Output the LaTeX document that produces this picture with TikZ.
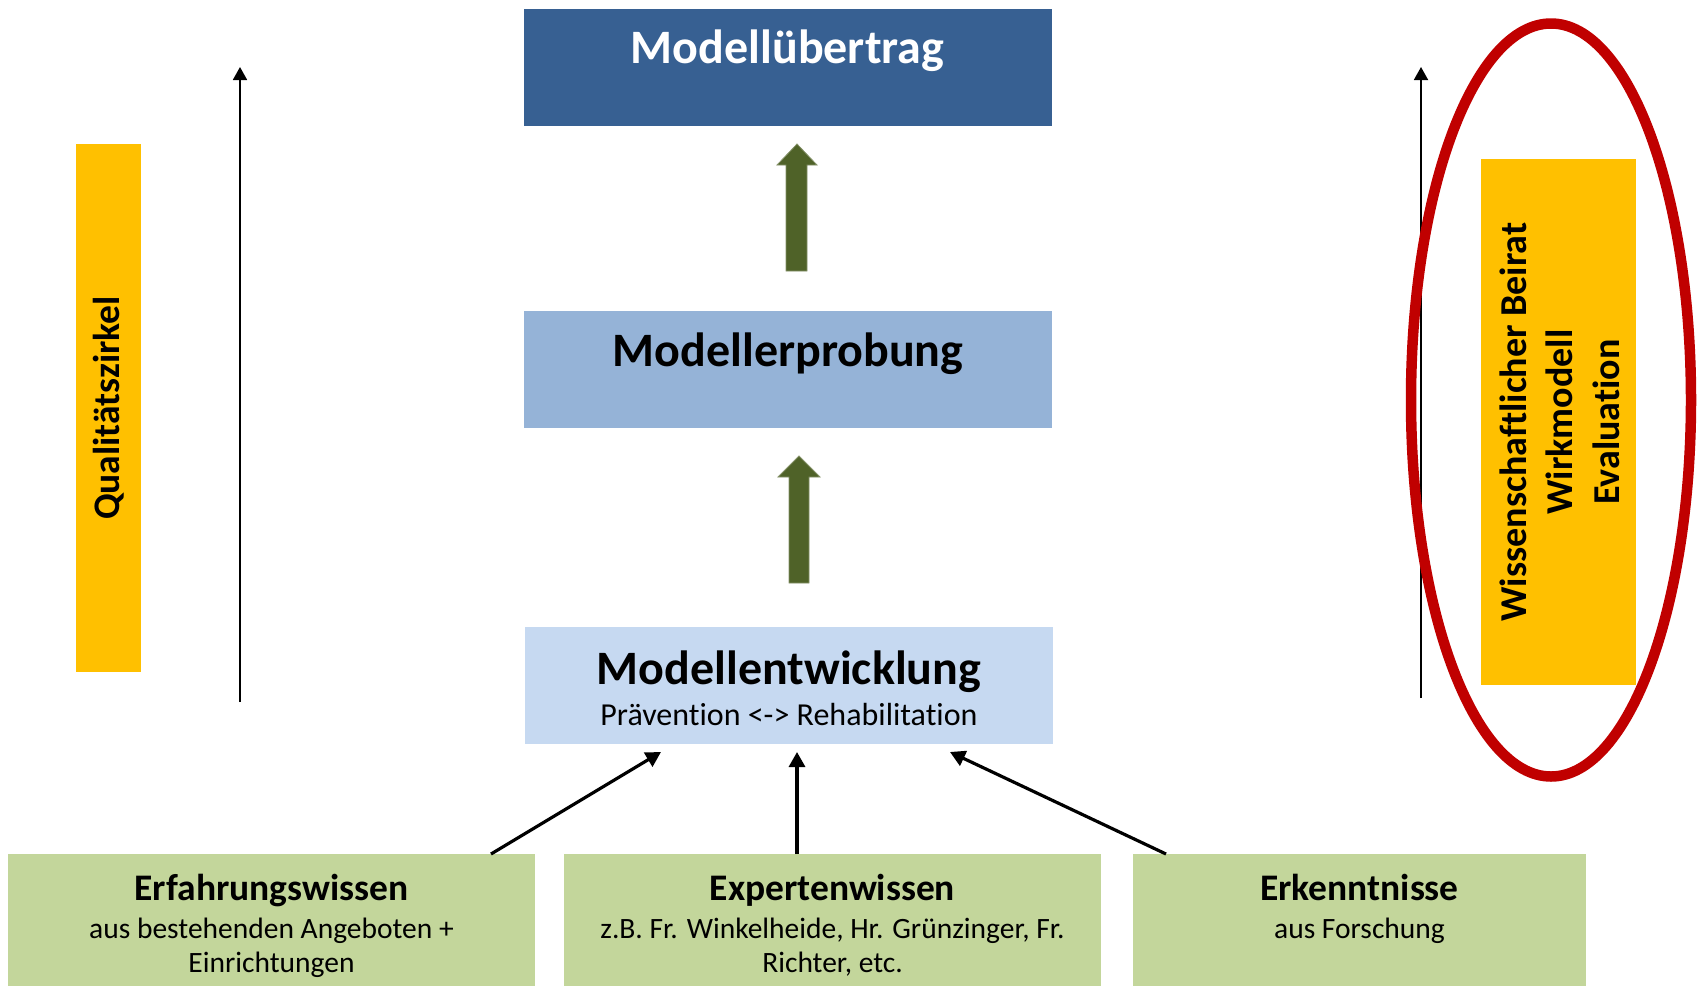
\documentclass[tikz,border=0pt]{standalone}
\usepackage{fontspec}
\setmainfont{Carlito}[Ligatures=NoCommon]
\usetikzlibrary{arrows.meta}
\definecolor{darkblue}{HTML}{376092}
\definecolor{midblue}{HTML}{95B3D7}
\definecolor{lightblue}{HTML}{C6D9F1}
\definecolor{leafgreen}{HTML}{C3D69B}
\definecolor{amber}{HTML}{FFC000}
\definecolor{olive}{HTML}{4F6228}
\definecolor{ringred}{HTML}{C00000}
\newcommand{\fs}[1]{\fontsize{#1}{1.22\dimexpr #1pt\relax}\selectfont}

\begin{document}
\begin{tikzpicture}[x=1pt,y=-1pt,
  stagebox/.style={draw=none, inner sep=0pt, minimum width=528pt, minimum height=117pt},
  sourcebox/.style={draw=none, fill=leafgreen, inner sep=0pt, minimum height=132pt},
  bartext/.style={inner sep=0pt, anchor=base, text=black},
  blockarrow/.style={fill=olive, draw=olive!70!white, line width=0.8pt},
  conn/.style={line width=3.2pt, -{Triangle[length=15pt,width=16pt]}},
  timeline/.style={line width=1.8pt, -{Triangle[length=13pt,width=14pt]}}]

\useasboundingbox (0,0) rectangle (1698,986);

% the three model stages
\node[stagebox, fill=darkblue]  (uebertrag)  at (787.5,67)  {};
\node[stagebox, fill=midblue]   (erprobung)  at (788,369)   {};
\node[stagebox, fill=lightblue] (entwicklung) at (789,685.5) {};

\node[bartext, text=white, font=\bfseries\fs{48}] (tU) at (787.5,63) {Modellübertrag};
\node[bartext, font=\bfseries\fs{48}] (tE) at (788,366) {Modellerprobung};
\node[bartext, font=\bfseries\fs{48}] (tW) at (789,684) {Modellentwicklung};
\node[bartext, font=\fs{32}] (tW2) at (789,725) {Prävention <-> Rehabilitation};

% block arrows between the stages
\fill[blockarrow] (797,144) -- (817,165) -- (807,165) -- (807,271) -- (786,271) -- (786,165) -- (777,165) -- cycle;
\fill[blockarrow] (799,456) -- (820,477) -- (809,477) -- (809,583) -- (789,583) -- (789,477) -- (778,477) -- cycle;

% knowledge sources
\node[sourcebox, minimum width=527pt] (erfahrung) at (271.5,920) {};
\node[sourcebox, minimum width=537pt] (experten)  at (832.5,920) {};
\node[sourcebox, minimum width=453pt] (erkennt)   at (1359.5,920) {};

\node[bartext, font=\bfseries\fs{37.5}] (eT) at (271.5,900) {Erfahrungswissen};
\node[bartext, font=\fs{29.5}] (eL1) at (271.5,938) {aus bestehenden Angeboten +};
\node[bartext, font=\fs{29.5}] (eL2) at (271.5,972) {Einrichtungen};

\node[bartext, font=\bfseries\fs{37.5}] (xT) at (832.5,900) {Expertenwissen};
\node[bartext, font=\fs{29.5}] (xL1) at (832.5,938) {z.B. Fr. Winkelheide, Hr. Grünzinger, Fr.};
\node[bartext, font=\fs{29.5}] (xL2) at (832.5,972) {Richter, etc.};

\node[bartext, font=\bfseries\fs{37.5}] (kT) at (1359.5,900) {Erkenntnisse};
\node[bartext, font=\fs{29.5}] (kL1) at (1359.5,938) {aus Forschung};

% connectors into the development stage
\coordinate (s1) at (491,854);  \coordinate (t1) at (661,752);
\coordinate (s2) at (797,854);  \coordinate (t2) at (797,752);
\coordinate (s3) at (1166,854); \coordinate (t3) at (950,752);
\draw[conn] (s1) -- (t1);
\draw[conn] (s2) -- (t2);
\draw[conn] (s3) -- (t3);

% left side: quality circle
\node[fill=amber, inner sep=0pt, minimum width=65pt, minimum height=528pt] (qbar) at (108.5,408) {};
\node[rotate=90, inner sep=0pt, font=\bfseries\fs{37.5}] (qtext) at (108.5,408) {Qualitätszirkel};
\coordinate (la0) at (240,702); \coordinate (la1) at (240,67);
\draw[timeline] (la0) -- (la1);

% right side: scientific board
\coordinate (ra0) at (1421,698); \coordinate (ra1) at (1421,67);
\draw[timeline] (ra0) -- (ra1);
\node[fill=amber, inner sep=0pt, minimum width=155pt, minimum height=526pt] (wbox) at (1558.5,422) {};
\node[rotate=90, align=center, inner sep=0pt, font=\bfseries\fs{38}] (wtext) at (1559.5,422)
  {Wissenschaftlicher Beirat\\Wirkmodell\\Evaluation};
\draw[ringred, line width=10.5pt] (1551,400) ellipse [x radius=140, y radius=376.5];

\end{tikzpicture}
\end{document}
